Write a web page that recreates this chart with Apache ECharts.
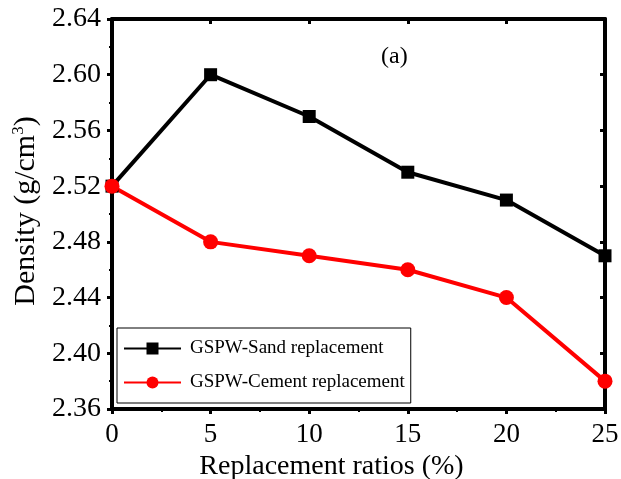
<!DOCTYPE html>
<html>
<head>
<meta charset="utf-8">
<script src="https://cdn.jsdelivr.net/npm/echarts@6/dist/echarts.min.js"></script>
<style>
  html,body{margin:0;padding:0;background:#fff}
  #chart{width:621px;height:479px}
</style>
</head>
<body>
<div id="chart"></div>
<script>
const ratios = [0, 5, 10, 15, 20, 25]
const sandDensity = [2.52, 2.60, 2.57, 2.53, 2.51, 2.47]
const cementDensity = [2.52, 2.48, 2.47, 2.46, 2.44, 2.38]
const seriesNames = ['GSPW-Sand replacement', 'GSPW-Cement replacement']

const font = '"Liberation Serif", "Times New Roman", serif'
const chart = echarts.init(document.getElementById('chart'))

const axisLine = {show: true, onZero: false, lineStyle: {color: '#000', width: 4}}
const tickOut = {show: true, inside: false, length: 5, lineStyle: {color: '#000', width: 3}}
const tickIn = {show: true, inside: true, length: 5, lineStyle: {color: '#000', width: 3}}
const minorOut = {show: true, splitNumber: 2, length: 3, lineStyle: {color: '#000', width: 2}}

const option = {
  animation: false,
  grid: {left: 112, right: 16, top: 19, bottom: 70, outerBoundsMode: 'none', containLabel: false},
  title: {
    text: '(a)', left: 376, top: 40,
    textStyle: {fontFamily: font, fontSize: 24, fontWeight: 'normal', color: '#000'}
  },
  legend: {
    left: 117, top: 328, width: 295, height: 70,
    orient: 'vertical',
    padding: [11, 6, 11, 6],
    itemGap: 15,
    itemWidth: 57, itemHeight: 15,
    borderColor: '#000', borderWidth: 1,
    data: seriesNames,
    textStyle: {fontFamily: font, fontSize: 19, color: '#000', padding: [0, 0, 0, 4]}
  },
  xAxis: [{
    type: 'value', min: 0, max: 25, interval: 5,
    name: 'Replacement ratios (%)', nameLocation: 'middle', nameGap: 44,
    nameTextStyle: {fontFamily: font, fontSize: 28, color: '#000', padding: [0, 54, 0, 0]},
    axisLine, axisTick: tickOut, minorTick: minorOut, splitLine: {show: false},
    axisLabel: {fontFamily: font, fontSize: 27, color: '#000', margin: 12}
  }, {
    type: 'value', position: 'top', min: 0, max: 25, interval: 5,
    axisLine, axisTick: tickIn, minorTick: {show: false}, splitLine: {show: false},
    axisLabel: {show: false}
  }],
  yAxis: [{
    type: 'value', min: 2.36, max: 2.64, interval: 0.04,
    name: '{n|Density (g/cm}{s|3}{n|)}', nameLocation: 'middle', nameGap: 68,
    nameTextStyle: {
      padding: [0, 0, 0, 6],
      rich: {
        n: {fontFamily: font, fontSize: 30, color: '#000'},
        s: {fontFamily: font, fontSize: 17, color: '#000', verticalAlign: 'bottom', padding: [0, 0, 15, 0]}
      }
    },
    axisLine, axisTick: tickOut, minorTick: minorOut, splitLine: {show: false},
    axisLabel: {fontFamily: font, fontSize: 28, color: '#000', margin: 11,
      formatter: v => v.toFixed(2)}
  }, {
    type: 'value', position: 'right', min: 2.36, max: 2.64, interval: 0.04,
    axisLine, axisTick: tickIn, minorTick: {show: false}, splitLine: {show: false},
    axisLabel: {show: false}
  }],
  series: [{
    name: seriesNames[0], type: 'line',
    data: ratios.map((r, i) => [r, sandDensity[i]]),
    symbol: 'rect', symbolSize: 13,
    itemStyle: {color: '#000'},
    lineStyle: {color: '#000', width: 4}
  }, {
    name: seriesNames[1], type: 'line',
    data: ratios.map((r, i) => [r, cementDensity[i]]),
    symbol: 'circle', symbolSize: 15,
    itemStyle: {color: '#ff0000'},
    lineStyle: {color: '#ff0000', width: 4}
  }]
}
chart.setOption(option)
</script>
</body>
</html>
